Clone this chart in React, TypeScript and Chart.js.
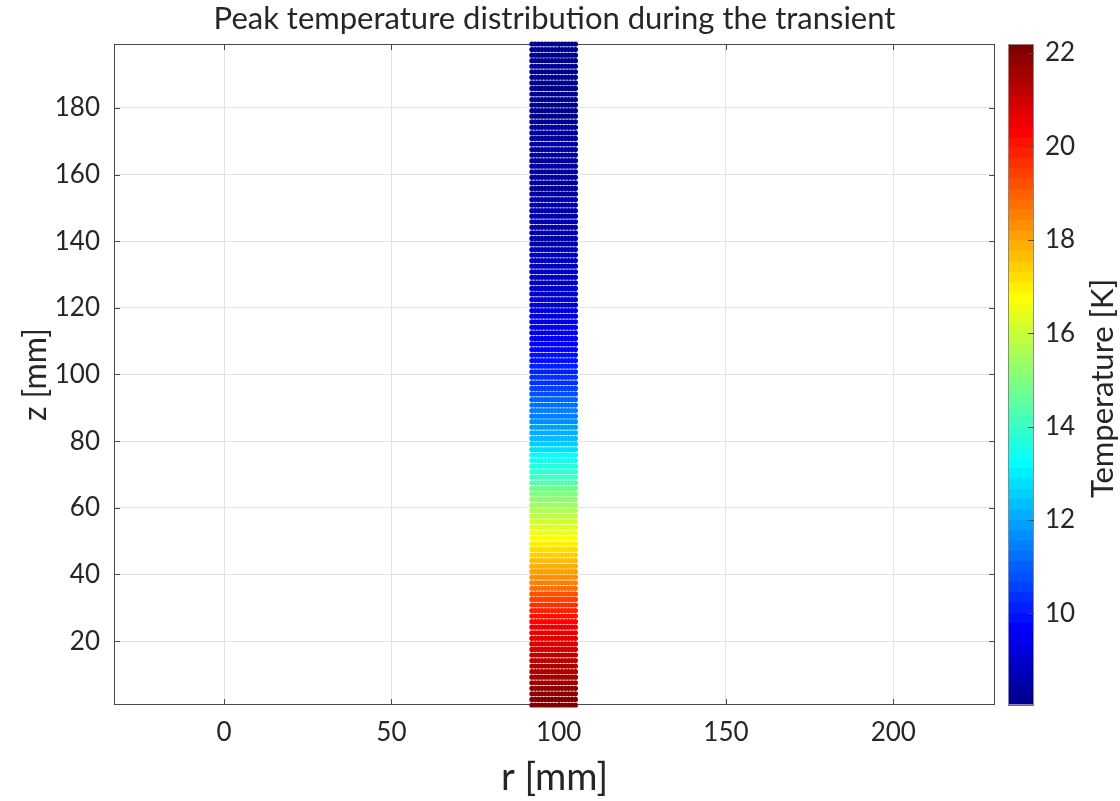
import React, { useEffect, useRef } from "react";
import { Chart, registerables } from "chart.js";

Chart.register(...registerables);

const TITLE = "Peak temperature distribution during the transient";
const X_LABEL = "r [mm]";
const Y_LABEL = "z [mm]";
const CBAR_LABEL = "Temperature [K]";

// radial positions of the point columns [mm]
const rCols = [92, 93, 94, 95, 96, 97, 98, 99, 100, 101, 102, 103, 104, 105];

// axial positions of the point rows [mm]
const zRows = [
  0.83, 2.5, 4.17, 5.83, 7.5, 9.17, 10.83, 12.5, 14.17, 15.83,
  17.5, 19.17, 20.83, 22.5, 24.17, 25.83, 27.5, 29.17, 30.83, 32.5,
  34.17, 35.83, 37.5, 39.17, 40.83, 42.5, 44.17, 45.83, 47.5, 49.17,
  50.83, 52.5, 54.17, 55.83, 57.5, 59.17, 60.83, 62.5, 64.17, 65.83,
  67.5, 69.17, 70.83, 72.5, 74.17, 75.83, 77.5, 79.17, 80.83, 82.5,
  84.17, 85.83, 87.5, 89.17, 90.83, 92.5, 94.17, 95.83, 97.5, 99.17,
  100.83, 102.5, 104.17, 105.83, 107.5, 109.17, 110.83, 112.5, 114.17, 115.83,
  117.5, 119.17, 120.83, 122.5, 124.17, 125.83, 127.5, 129.17, 130.83, 132.5,
  134.17, 135.83, 137.5, 139.17, 140.83, 142.5, 144.17, 145.83, 147.5, 149.17,
  150.83, 152.5, 154.17, 155.83, 157.5, 159.17, 160.83, 162.5, 164.17, 165.83,
  167.5, 169.17, 170.83, 172.5, 174.17, 175.83, 177.5, 179.17, 180.83, 182.5,
  184.17, 185.83, 187.5, 189.17, 190.83, 192.5, 194.17, 195.83, 197.5, 199.17,
];

// peak temperature of each row [K]
const tempRows = [
  22.19, 22.05, 21.92, 21.8, 21.68, 21.56, 21.45, 21.33, 21.22, 21.1,
  20.98, 20.86, 20.74, 20.6, 20.45, 20.28, 20.08, 19.86, 19.62, 19.38,
  19.12, 18.86, 18.6, 18.34, 18.08, 17.84, 17.6, 17.38, 17.16, 16.96,
  16.76, 16.56, 16.36, 16.16, 15.95, 15.72, 15.48, 15.22, 14.96, 14.7,
  14.44, 14.18, 13.92, 13.66, 13.4, 13.15, 12.9, 12.66, 12.42, 12.2,
  11.98, 11.77, 11.56, 11.36, 11.17, 10.98, 10.8, 10.63, 10.47, 10.32,
  10.18, 10.05, 9.93, 9.82, 9.72, 9.62, 9.53, 9.45, 9.37, 9.3,
  9.23, 9.17, 9.11, 9.05, 9.0, 8.95, 8.91, 8.87, 8.83, 8.79,
  8.76, 8.73, 8.7, 8.67, 8.64, 8.62, 8.59, 8.57, 8.55, 8.53,
  8.51, 8.49, 8.47, 8.45, 8.43, 8.42, 8.4, 8.38, 8.37, 8.35,
  8.34, 8.32, 8.31, 8.29, 8.28, 8.26, 8.25, 8.23, 8.22, 8.2,
  8.19, 8.17, 8.16, 8.14, 8.13, 8.11, 8.1, 8.08, 8.06, 8.04,
];

const xTicks = [0, 50, 100, 150, 200];
const yTicks = [20, 40, 60, 80, 100, 120, 140, 160, 180];
const cTicks = [10, 12, 14, 16, 18, 20, 22];

const X_MIN = -32.9;
const X_MAX = 230.4;

const FONT = "Lato";
const TEXT_COLOR = "#262626";
const AXIS_COLOR = "#4a4a4a";
const GRID_COLOR = "#e4e4e4";
const N_COLORS = 64;

const T_MIN = Math.min(...tempRows);
const T_MAX = Math.max(...tempRows);

function jetColor(k: number): string {
  const cl = (v: number) => Math.max(0, Math.min(1, v));
  const r = cl(Math.min((k - 24) / 16, (72 - k) / 16));
  const g = cl(Math.min((k - 8) / 16, (56 - k) / 16));
  const b = cl(Math.min((k + 8) / 16, (40 - k) / 16));
  return `rgb(${Math.round(r * 255)},${Math.round(g * 255)},${Math.round(b * 255)})`;
}

function colorFor(t: number): string {
  const k = Math.min(N_COLORS, Math.floor(((t - T_MIN) / (T_MAX - T_MIN)) * N_COLORS) + 1);
  return jetColor(k);
}

function noPad(s: any) {
  s.paddingTop = 0;
  s.paddingBottom = 0;
  s.paddingLeft = 0;
  s.paddingRight = 0;
}

export default function App() {
  const ref = useRef<HTMLCanvasElement>(null);

  useEffect(() => {
    document.body.style.margin = "0";
    const canvas = ref.current;
    if (!canvas) return;

    const points: { x: number; y: number }[] = [];
    const colors: string[] = [];
    zRows.forEach((z, i) => {
      rCols.forEach((r) => {
        points.push({ x: r, y: z });
        colors.push(colorFor(tempRows[i]));
      });
    });

    const decor = {
      id: "matlabDecor",
      beforeDatasetsDraw(chart: any) {
        const { ctx, chartArea: a, scales } = chart;
        ctx.save();
        ctx.strokeStyle = AXIS_COLOR;
        ctx.lineWidth = 1;
        ctx.strokeRect(a.left + 0.5, a.top + 0.5, a.right - a.left - 1, a.bottom - a.top - 1);
        const tl = 6;
        ctx.beginPath();
        for (const v of xTicks) {
          const x = Math.round(scales.x.getPixelForValue(v)) + 0.5;
          ctx.moveTo(x, a.bottom);
          ctx.lineTo(x, a.bottom - tl);
          ctx.moveTo(x, a.top);
          ctx.lineTo(x, a.top + tl);
        }
        for (const v of yTicks) {
          const y = Math.round(scales.y.getPixelForValue(v)) + 0.5;
          ctx.moveTo(a.left, y);
          ctx.lineTo(a.left + tl, y);
          ctx.moveTo(a.right, y);
          ctx.lineTo(a.right - tl, y);
        }
        ctx.stroke();

        // colorbar
        const c = scales.c;
        const x0 = c.left + 13;
        const w = 26;
        const span = T_MAX - T_MIN;
        for (let k = 1; k <= N_COLORS; k++) {
          const yTop = c.getPixelForValue(T_MIN + (k / N_COLORS) * span);
          const yBot = c.getPixelForValue(T_MIN + ((k - 1) / N_COLORS) * span);
          ctx.fillStyle = jetColor(k);
          ctx.fillRect(x0, yTop, w, yBot - yTop + 0.6);
        }
        ctx.strokeStyle = "#8a8a8a";
        ctx.strokeRect(x0 + 0.5, c.top + 0.5, w - 1, c.bottom - c.top - 1);
        ctx.strokeStyle = AXIS_COLOR;
        ctx.beginPath();
        for (const v of cTicks) {
          const y = Math.round(c.getPixelForValue(v)) + 0.5;
          ctx.moveTo(x0 + w, y);
          ctx.lineTo(x0 + w - 6, y);
        }
        ctx.stroke();

        // colorbar label
        ctx.fillStyle = TEXT_COLOR;
        ctx.font = `31px ${FONT}`;
        ctx.textAlign = "center";
        ctx.textBaseline = "middle";
        ctx.translate(1103, (c.top + c.bottom) / 2 + 14);
        ctx.rotate(-Math.PI / 2);
        ctx.fillText(CBAR_LABEL, 0, 0);
        ctx.restore();
      },
    };

    const tickFont = { family: FONT, size: 26 };

    const chart = new Chart(canvas, {
      type: "scatter",
      data: {
        datasets: [
          {
            data: points,
            pointBackgroundColor: colors,
            pointBorderWidth: 0,
            pointRadius: 2.6,
            pointStyle: "circle",
            clip: false as any,
          },
        ],
      },
      options: {
        animation: false,
        responsive: true,
        maintainAspectRatio: false,
        events: [],
        layout: { padding: 0 },
        plugins: {
          legend: { display: false },
          tooltip: { enabled: false },
          title: {
            display: true,
            text: TITLE,
            fullSize: false,
            color: TEXT_COLOR,
            font: { family: FONT, size: 31, weight: "normal" as any, lineHeight: 1.2 },
            padding: { top: 0, bottom: 6.8 },
          },
        },
        scales: {
          x: {
            type: "linear",
            position: "bottom",
            min: X_MIN,
            max: X_MAX,
            afterBuildTicks: (s: any) => {
              s.ticks = xTicks.map((v) => ({ value: v }));
            },
            afterFit: (s: any) => {
              s.height = 96;
              noPad(s);
            },
            ticks: { font: tickFont, color: TEXT_COLOR, padding: 12, maxRotation: 0 },
            grid: { color: GRID_COLOR, drawTicks: false },
            border: { display: false },
            title: {
              display: true,
              text: X_LABEL,
              color: TEXT_COLOR,
              font: { family: FONT, size: 38 },
              padding: { top: 0, bottom: 0 },
            },
          },
          y: {
            type: "linear",
            position: "left",
            min: zRows[0],
            max: zRows[zRows.length - 1],
            afterBuildTicks: (s: any) => {
              s.ticks = yTicks.map((v) => ({ value: v }));
            },
            afterFit: (s: any) => {
              s.width = 114;
              noPad(s);
            },
            ticks: { font: tickFont, color: TEXT_COLOR, padding: 14 },
            grid: { color: GRID_COLOR, drawTicks: false },
            border: { display: false },
            title: {
              display: true,
              text: Y_LABEL,
              color: TEXT_COLOR,
              font: { family: FONT, size: 32 },
              padding: { top: 16, bottom: 0 },
            },
          },
          c: {
            type: "linear",
            position: "right",
            min: T_MIN,
            max: T_MAX,
            afterBuildTicks: (s: any) => {
              s.ticks = cTicks.map((v) => ({ value: v }));
            },
            afterFit: (s: any) => {
              s.width = 125;
              noPad(s);
            },
            ticks: { font: tickFont, color: TEXT_COLOR, padding: 50 },
            grid: { display: false, drawTicks: false },
            border: { display: false },
          },
        },
      },
      plugins: [decor],
    });

    return () => chart.destroy();
  }, []);

  return (
    <div style={{ position: "absolute", left: 0, top: 0, width: 1120, height: 801, background: "#fff" }}>
      <canvas ref={ref} width={1120} height={801} />
    </div>
  );
}
